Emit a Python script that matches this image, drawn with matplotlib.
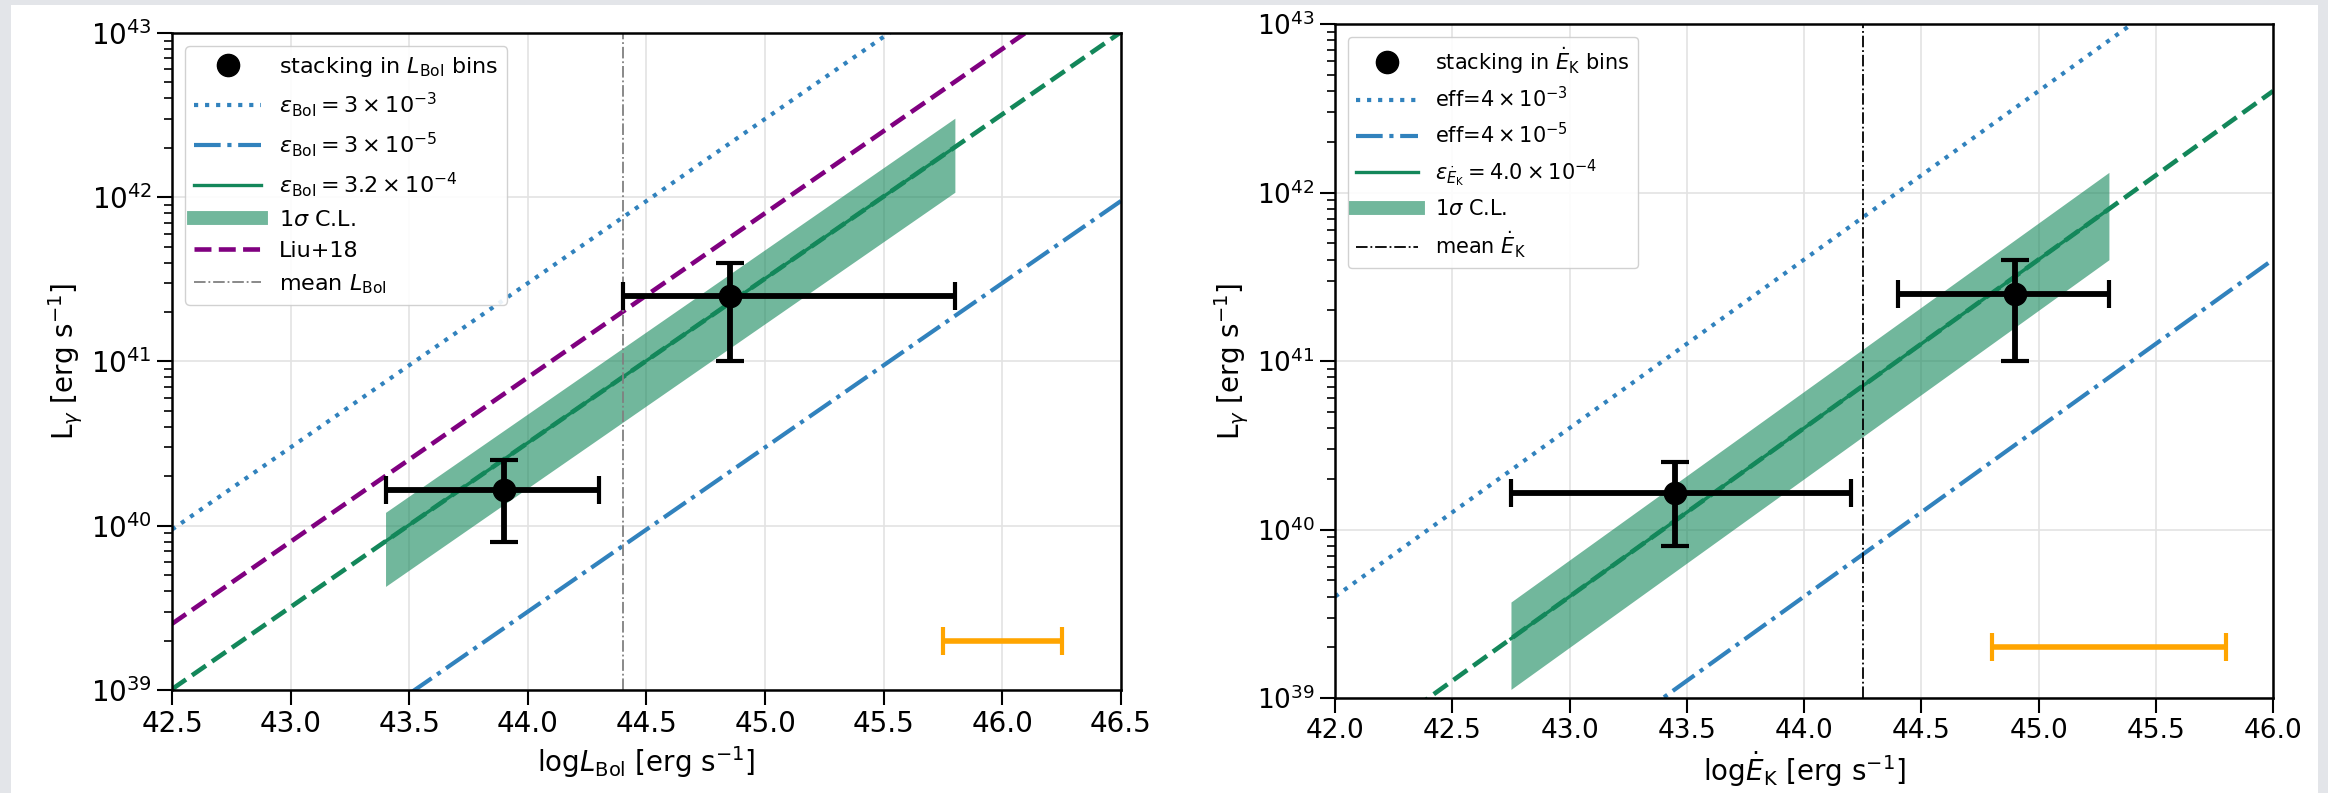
import numpy as np
import matplotlib
matplotlib.use("Agg")
import matplotlib.pyplot as plt
from matplotlib.lines import Line2D
from matplotlib.patches import Rectangle

# Left panel: stacking in L_Bol bins
bol_x = [43.9, 44.85]
bol_xlo = [43.4, 44.4]
bol_xhi = [44.3, 45.8]
bol_y = [1.65e40, 2.5e41]
bol_ylo = [8e39, 1e41]
bol_yhi = [2.5e40, 4e41]
bol_eff_hi = 3e-3
bol_eff_lo = 3e-5
bol_eff_fit = 3.2e-4
bol_band = [1.7e-4, 4.8e-4]
bol_band_x = [43.4, 45.8]
liu18_eff = 8e-4
bol_mean = 44.4
bol_sys_x, bol_sys_err, bol_sys_y = 46.0, 0.25, 2e39

# Right panel: stacking in E_K bins
ek_x = [43.45, 44.9]
ek_xlo = [42.75, 44.4]
ek_xhi = [44.2, 45.3]
ek_y = [1.65e40, 2.5e41]
ek_ylo = [8e39, 1e41]
ek_yhi = [2.5e40, 4e41]
ek_eff_hi = 4e-3
ek_eff_lo = 4e-5
ek_eff_fit = 4.0e-4
ek_band = [2.0e-4, 6.6e-4]
ek_band_x = [42.75, 45.3]
ek_mean = 44.25
ek_sys_x, ek_sys_err, ek_sys_y = 45.3, 0.5, 2e39

blue = "#3182bd"
green = "#13875a"


def panel(ax, xlim, px, pxlo, pxhi, py, pylo, pyhi, eff_hi, eff_lo, eff_fit,
          band, band_x, mean, mean_color, mean_lw, sys, fs, labels, liu=None):
    xx = np.linspace(xlim[0], xlim[1], 200)
    h_hi, = ax.plot(xx, eff_hi * 10**xx, ":", color=blue, lw=3)
    h_lo, = ax.plot(xx, eff_lo * 10**xx, "-.", color=blue, lw=3)
    ax.plot(xx, eff_fit * 10**xx, "--", color=green, lw=3.3)
    xb = np.linspace(band_x[0], band_x[1], 100)
    h_fit, = ax.plot(xb, eff_fit * 10**xb, "-", color=green, lw=2.4)
    ax.fill_between(xb, band[0] * 10**xb, band[1] * 10**xb, color=green,
                    alpha=0.6, lw=0)
    h_band = Line2D([], [], color=green, alpha=0.6, lw=10)
    handles = [None, h_hi, h_lo, h_fit, h_band]
    if liu is not None:
        h_liu, = ax.plot(xx, liu * 10**xx, "--", color="purple", lw=3.3)
        handles.append(h_liu)
    h_mean = ax.axvline(mean, color=mean_color, lw=mean_lw, ls="-.")
    handles.append(h_mean)

    px = np.array(px)
    py = np.array(py)
    xerr = [px - np.array(pxlo), np.array(pxhi) - px]
    yerr = [py - np.array(pylo), np.array(pyhi) - py]
    ax.errorbar(px, py, xerr=xerr, yerr=yerr, fmt="none", ecolor="black",
                elinewidth=4.2, capsize=10, capthick=3, zorder=5)
    h_pts, = ax.plot(px, py, "o", color="black", ms=16, ls="none", zorder=6)
    handles[0] = h_pts
    ax.errorbar([sys[0]], [sys[2]], xerr=[sys[1]], fmt="none", ecolor="orange",
                elinewidth=4, capsize=10, capthick=3)

    ax.set_yscale("log")
    ax.set_xlim(xlim)
    ax.set_ylim(1e39, 1e43)
    ax.grid(True, which="major", color="#e3e3e3", lw=1.2)
    ax.set_axisbelow(True)
    ax.tick_params(which="major", length=11, width=1.5, labelsize=fs)
    ax.tick_params(which="minor", length=6, width=1.2)
    for s in ax.spines.values():
        s.set_linewidth(1.8)
    ax.legend(handles, labels, loc="upper left", fontsize=fs - 4,
              handlelength=3, borderaxespad=0.6, framealpha=0.9,
              edgecolor="#cccccc")


fig = plt.figure(figsize=(23.28, 7.93), dpi=100, facecolor="#e3e5e9")
fig.patches.append(Rectangle((0.0047, 0), 0.991, 0.9937, transform=fig.transFigure,
                             facecolor="white", edgecolor="none", zorder=-10))

ax1 = fig.add_axes([0.0739, 0.1299, 0.4076, 0.8285])
ax2 = fig.add_axes([0.5735, 0.1198, 0.4029, 0.8499])

panel(ax1, (42.5, 46.5), bol_x, bol_xlo, bol_xhi, bol_y, bol_ylo, bol_yhi,
      bol_eff_hi, bol_eff_lo, bol_eff_fit, bol_band, bol_band_x, bol_mean,
      "grey", 1.3, (bol_sys_x, bol_sys_err, bol_sys_y), 20,
      [r"stacking in $L_{\rm Bol}$ bins",
       r"$\varepsilon_{\rm Bol}=3\times10^{-3}$",
       r"$\varepsilon_{\rm Bol}=3\times10^{-5}$",
       r"$\varepsilon_{\rm Bol}=3.2\times10^{-4}$",
       r"$1\sigma$ C.L.", "Liu+18", r"mean $L_{\rm Bol}$"],
      liu=liu18_eff)
ax1.set_xlabel(r"log$L_{\rm Bol}$ [erg s$^{-1}$]", fontsize=20)
ax1.set_ylabel(r"L$_{\gamma}$ [erg s$^{-1}$]", fontsize=20)

panel(ax2, (42.0, 46.0), ek_x, ek_xlo, ek_xhi, ek_y, ek_ylo, ek_yhi,
      ek_eff_hi, ek_eff_lo, ek_eff_fit, ek_band, ek_band_x, ek_mean,
      "black", 1.3, (ek_sys_x, ek_sys_err, ek_sys_y), 19,
      [r"stacking in $\dot{E}_{\rm K}$ bins",
       r"eff=$4\times10^{-3}$",
       r"eff=$4\times10^{-5}$",
       r"$\varepsilon_{\dot{E}_{\rm K}}=4.0\times10^{-4}$",
       r"$1\sigma$ C.L.", r"mean $\dot{E}_{\rm K}$"])
ax2.set_xlabel(r"log$\dot{E}_{\rm K}$ [erg s$^{-1}$]", fontsize=20)
ax2.set_ylabel(r"L$_{\gamma}$ [erg s$^{-1}$]", fontsize=20)

fig.savefig("out.png", dpi=100, facecolor=fig.get_facecolor())
